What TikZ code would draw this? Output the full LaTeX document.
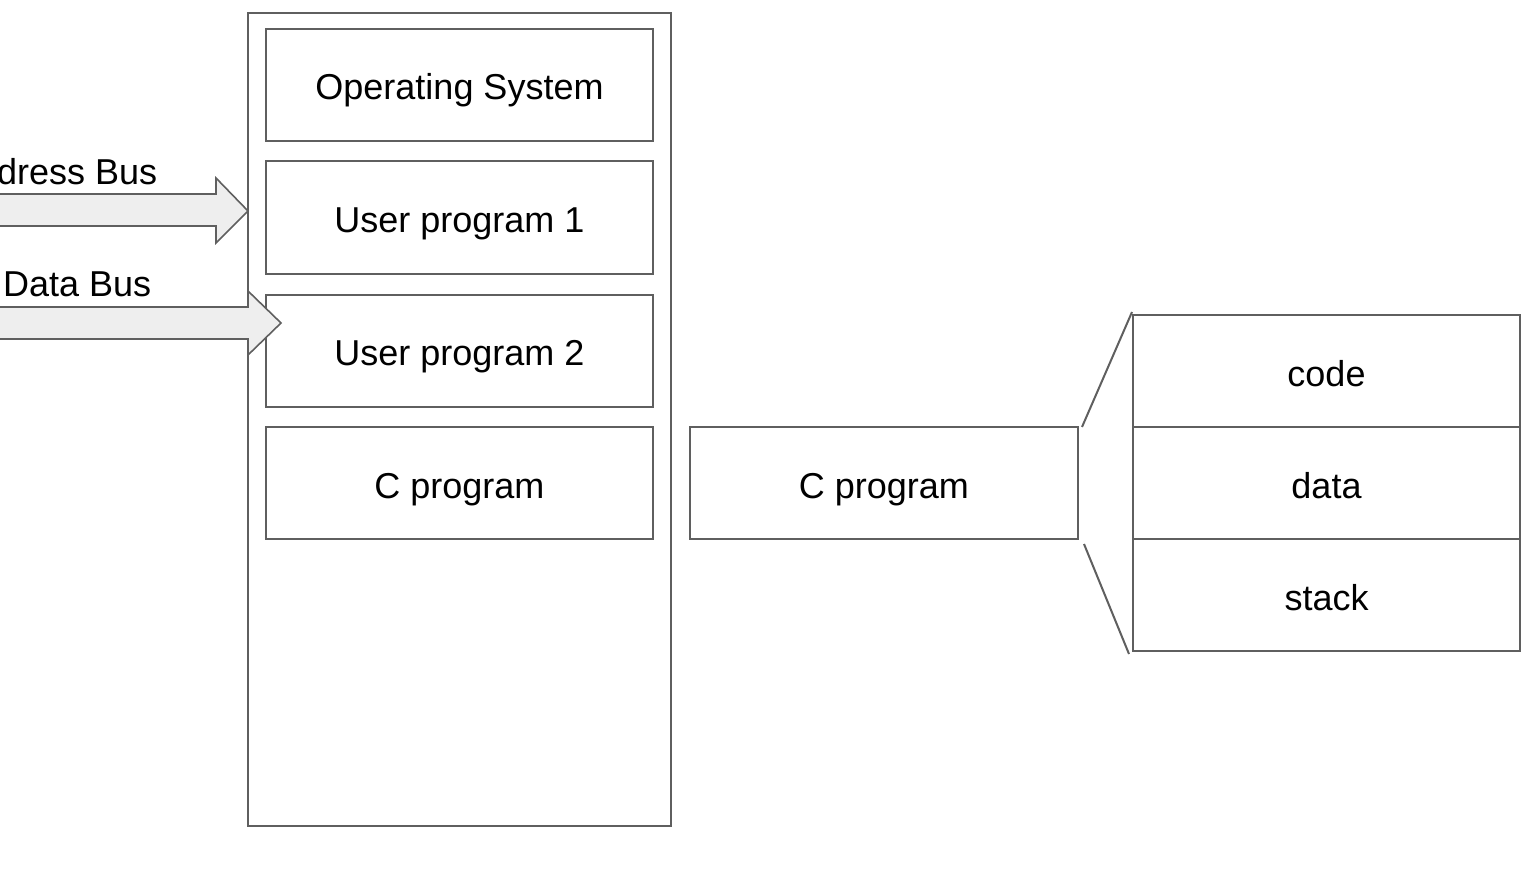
\documentclass[tikz,border=0pt]{standalone}
\usepackage{fontspec}
\setmainfont{Liberation Sans}
\usetikzlibrary{calc}
\definecolor{edge}{HTML}{5F5F5F}
\definecolor{busfill}{HTML}{EEEEEE}
\tikzset{
  box/.style={draw=edge,line width=2pt,minimum width=387pt,minimum height=112pt,inner sep=0pt,
    text height=30pt,text depth=0pt,font=\fontsize{36pt}{40pt}\selectfont},
  bus/.style={draw=edge,fill=busfill,line width=1.6pt,line join=miter},
  lbl/.style={inner sep=0pt,anchor=base west,font=\fontsize{36pt}{40pt}\selectfont},
  zoomline/.style={draw=edge,line width=2pt}
}
\begin{document}
\begin{tikzpicture}[x=1pt,y=-1pt]
\useasboundingbox (0,0) rectangle (1534,872);
\clip (0,0) rectangle (1534,872);
\node[draw=edge,line width=2pt,minimum width=423pt,minimum height=813pt,inner sep=0pt] (mem) at (459.5,419.5) {};
\node[box] (os) at (459.5,85) {Operating System};
\node[box] (up1) at (459.5,217.5) {User program 1};
\node[box] (up2) at (459.5,350.5) {User program 2};
\node[box] (cp1) at (459.5,483) {C program};
\node[box,minimum width=388pt] (cp2) at (884,483) {C program};
\node[box] (code) at (1326.5,371) {code};
\node[box] (data) at (1326.5,483) {data};
\node[box] (stack) at (1326.5,595) {stack};
\draw[zoomline] ($(cp2.north east)+(3,1)$) -- ($(code.north west)+(0,-2)$);
\draw[zoomline] ($(cp2.south east)+(5,4)$) -- ($(stack.south west)+(-3,2)$);
% address bus
\coordinate (abtip) at (248,211);
\draw[bus] (-5,194) -- (216,194) -- (216,178) -- (abtip) -- (216,243) -- (216,226) -- (-5,226);
\node[lbl] (ablbl) at (-47,184) {Address Bus};
% data bus
\coordinate (dbtip) at (281,323);
\draw[bus] (-5,307) -- (248,307) -- (248,291) -- (dbtip) -- (248,355) -- (248,339) -- (-5,339);
\node[lbl] (dblbl) at (3,296) {Data Bus};
\end{tikzpicture}
\end{document}
